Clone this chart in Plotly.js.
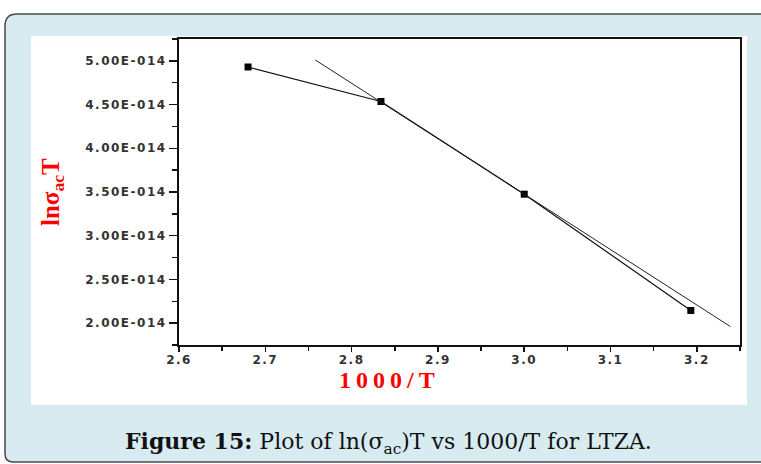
<!DOCTYPE html>
<html>
<head>
<meta charset="utf-8">
<script src="https://cdn.plot.ly/plotly-3.0.1.min.js"></script>
<style>html,body{margin:0;padding:0;background:#fff;}#chart{width:761px;height:464px;}</style>
</head>
<body>
<div id="chart"></div>
<script>
// ---- data ----
const xData = [2.68, 2.834, 3.0, 3.193];               // 1000/T
const yData = [4.93e-14, 4.535e-14, 3.475e-14, 2.145e-14]; // ln(sigma_ac)T
const fitX = [2.758, 3.239];                            // linear fit line ends
const fitY = [5.01e-14, 1.96e-14];
const xTicks = [2.6, 2.7, 2.8, 2.9, 3.0, 3.1, 3.2];
const xTickLabels = ['2.6', '2.7', '2.8', '2.9', '3.0', '3.1', '3.2'];
const yTicks = [2.0e-14, 2.5e-14, 3.0e-14, 3.5e-14, 4.0e-14, 4.5e-14, 5.0e-14];
const yTickLabels = ['2.00E-014', '2.50E-014', '3.00E-014', '3.50E-014', '4.00E-014', '4.50E-014', '5.00E-014'];
const xTitle = '1000/T';
const yTitle = 'ln\u03c3<sub>ac</sub>T';
const caption = '<b>Figure 15:</b> Plot of ln(\u03c3<sub>ac</sub>)T vs 1000/T for LTZA.';

// ---- layout geometry (pixels) ----
const W = 761, H = 464, ML = 179, MR = 21, MT = 39, MB = 119;
const PW = W - ML - MR, PH = H - MT - MB;
const px = p => (p - ML) / PW;
const py = p => (H - MB - p) / PH;

const sp = (s, ls) => '<span style="letter-spacing:' + ls + 'px">' + s + '</span>';

const outerPath = (() => {
  const pts = [['M', 5, 26], ['Q', 5, 14, 17, 14], ['L', 780, 14], ['L', 780, 462], ['L', 13, 462], ['Q', 5, 462, 5, 454]];
  return pts.map(a => {
    const c = [];
    for (let i = 1; i < a.length; i += 2) c.push(px(a[i]).toFixed(5) + ',' + py(a[i + 1]).toFixed(5));
    return a[0] + ' ' + c.join(' ');
  }).join(' ') + ' Z';
})();

const traces = [
  {
    x: xData, y: yData, type: 'scatter', mode: 'lines+markers',
    line: {color: '#111', width: 1.2},
    marker: {symbol: 'square', size: 7, color: '#000'},
    showlegend: false, hoverinfo: 'x+y'
  },
  {
    x: fitX, y: fitY, type: 'scatter', mode: 'lines',
    line: {color: '#222', width: 1},
    showlegend: false, hoverinfo: 'skip'
  }
];

const axCommon = {
  showgrid: false, zeroline: false, showline: true, linewidth: 2, linecolor: '#111',
  mirror: true, ticks: 'outside', tickcolor: '#111', tickwidth: 1.5,
  tickfont: {family: 'DejaVu Sans', size: 12, weight: 'bold', color: '#333'},
  fixedrange: true
};

const layout = {
  width: W, height: H,
  margin: {l: ML, r: MR, t: MT, b: MB, pad: 0},
  paper_bgcolor: '#ffffff',
  plot_bgcolor: '#ffffff',
  showlegend: false,
  xaxis: Object.assign({}, axCommon, {
    range: [2.6, 3.25],
    tickmode: 'array', tickvals: xTicks, ticktext: xTickLabels.map(s => sp(s, 1.5)),
    ticklen: 5, ticklabelstandoff: -2,
    minor: {tickmode: 'linear', tick0: 2.6, dtick: 0.05, ticks: 'outside', ticklen: 4, tickcolor: '#111', tickwidth: 1.5, showgrid: false}
  }),
  yaxis: Object.assign({}, axCommon, {
    range: [1.75e-14, 5.25e-14],
    tickmode: 'array', tickvals: yTicks, ticktext: yTickLabels.map(s => sp(s, 1.5)),
    ticklen: 8,
    minor: {tickmode: 'linear', tick0: 2.0e-14, dtick: 0.25e-14, ticks: 'outside', ticklen: 5, tickcolor: '#111', tickwidth: 1.5, showgrid: false}
  }),
  shapes: [
    {type: 'path', xref: 'paper', yref: 'paper', layer: 'below', path: outerPath,
     fillcolor: '#d7ebf1', line: {color: '#4a4a4a', width: 1.5}},
    {type: 'rect', xref: 'paper', yref: 'paper', layer: 'below',
     x0: px(31), x1: px(747), y0: py(405), y1: py(36),
     fillcolor: '#ffffff', line: {width: 0}}
  ],
  annotations: [
    {xref: 'paper', yref: 'paper', x: px(389), y: py(380), xanchor: 'center', yanchor: 'middle',
     text: sp(xTitle, 5), showarrow: false,
     font: {family: 'Liberation Serif', size: 24, weight: 'bold', color: '#ff0000'}},
    {xref: 'paper', yref: 'paper', x: px(52), y: py(192), xanchor: 'center', yanchor: 'middle',
     text: yTitle, textangle: -90, showarrow: false,
     font: {family: 'Liberation Serif', size: 25, weight: 'bold', color: '#ff0000'}},
    {xref: 'paper', yref: 'paper', x: px(388), y: py(443), xanchor: 'center', yanchor: 'middle',
     text: caption, showarrow: false,
     font: {family: 'DejaVu Serif', size: 22, color: '#111'}}
  ]
};

Plotly.newPlot('chart', traces, layout, {displayModeBar: false, staticPlot: true});
</script>
</body>
</html>
